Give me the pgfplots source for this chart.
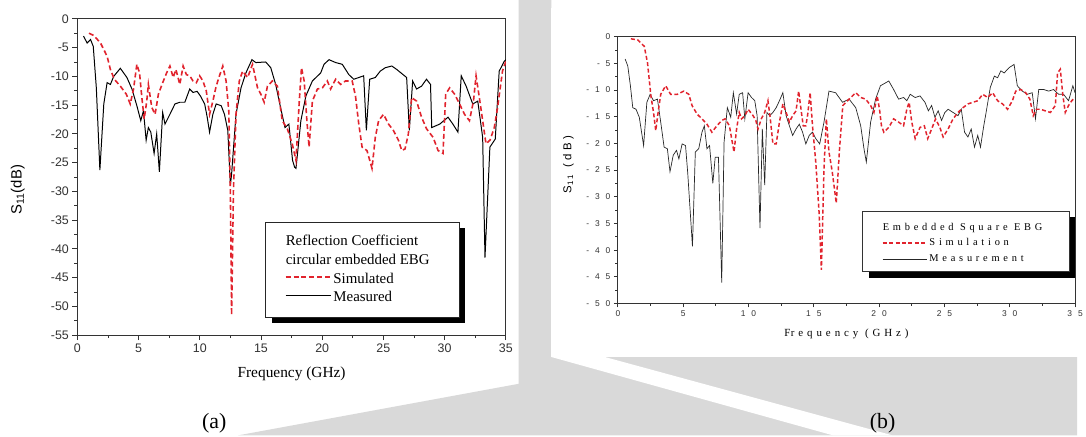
\documentclass[border=0pt]{standalone}
\usepackage{fontspec}
\setmainfont{Liberation Serif}
\newfontfamily\arial{Liberation Sans}
\newfontfamily\arialsp[LetterSpace=70]{Liberation Sans}
\newfontfamily\arialspb[LetterSpace=30]{Liberation Sans}
\newfontfamily\timessp[LetterSpace=36]{Liberation Serif}
\usepackage{pgfplots}
\pgfplotsset{compat=1.18}
\definecolor{simred}{RGB}{225,35,45}
\definecolor{bggray}{RGB}{217,217,217}
\begin{document}
\begin{tikzpicture}[x=1pt,y=1pt]
\fill[white] (0,0) rectangle (1086,439);
\fill[bggray] (523,52) -- (523,439) -- (556,439) -- (556,79) -- (1086,79) -- (1086,0) -- (240,0) -- cycle;
\fill[white] (556,79) -- (610,79) -- (900,0) -- (840,0) -- cycle;
\fill[white] (556,79) rectangle (1086,431);

% ---------------- panel (a)
\begin{axis}[at={(78pt,101pt)}, anchor=south west, scale only axis,
  width=432pt, height=319pt,
  xmin=0, xmax=35, ymin=-55, ymax=0,
  xtick={0,5,...,35}, ytick={-55,-50,...,0},
  minor x tick num=1, minor y tick num=1,
  tick align=outside, xtick pos=bottom, ytick pos=left,
  major tick length=5pt, minor tick length=3pt,
  axis line style={line width=1pt, black!80},
  every tick/.style={line width=0.9pt, black!80},
  /pgf/number format/assume math mode=true,
  ticklabel style={font=\arial\fontsize{12.5}{14}\selectfont, text=black!80},
  xlabel={Frequency (GHz)},
  xlabel style={font=\fontsize{15.5}{18}\selectfont, at={(axis description cs:0.5,-0.122)}, anchor=center},
  ylabel={\arial S\textsubscript{11}(dB)},
  ylabel style={font=\fontsize{15}{18}\selectfont, at={(axis description cs:-0.139,0.46)}, anchor=center},
]
\addplot[black, line width=1pt] coordinates {
(0.5,-3.0) (0.8,-4.2) (1.08,-3.6) (1.3,-4.8) (1.55,-12) (1.84,-26.3) (2.16,-14.8) (2.43,-11.1) (2.7,-11.4) (2.97,-10) (3.51,-8.6) (4.05,-10.2) (4.46,-12.2) (4.86,-15.1) (5.18,-17.7) (5.4,-16) (5.62,-21.1) (5.8,-18.9) (6.0,-19.7) (6.27,-23.4) (6.48,-20) (6.7,-26.6) (6.97,-16.3) (7.16,-18.3) (7.56,-16.6) (7.97,-14.8) (8.37,-14.5) (8.78,-14.5) (9.18,-12.2) (9.45,-12.8) (9.78,-12.6) (10.05,-13.4) (10.4,-14.8) (10.6,-17) (10.8,-19.7) (11.07,-16.6) (11.34,-14.8) (11.75,-15.1) (12.02,-16.6) (12.29,-19.4) (12.5,-29) (12.6,-27) (12.96,-16.6) (13.37,-12) (13.77,-9.4) (14.26,-7.1) (14.58,-7.6) (15.39,-7.5) (15.8,-8.5) (16.2,-11.4) (16.6,-15.4) (16.96,-18.9) (17.28,-18.3) (17.58,-24.6) (17.75,-25.8) (17.86,-26) (18.26,-17.7) (18.67,-13.4) (19.2,-10.8) (19.88,-9.4) (20.15,-7.9) (20.56,-7.1) (21.1,-7.6) (21.64,-7.9) (22.18,-9.7) (22.58,-10.5) (22.99,-10.2) (23.39,-9.9) (23.61,-19.4) (23.88,-10.5) (24.34,-10.2) (24.74,-9.1) (25.15,-8.5) (25.69,-8.2) (26.09,-8.8) (26.9,-10.2) (27.12,-19.4) (27.39,-10.8) (27.71,-12.2) (28.12,-11.7) (28.52,-10.5) (28.85,-11.4) (28.95,-18.9) (29.6,-18.3) (30.28,-17.1) (30.68,-18.3) (31.09,-19.7) (31.36,-9.9) (31.76,-11.7) (32.3,-14.8) (32.71,-14.3) (33.11,-20.6) (33.3,-41.5) (33.7,-22.3) (34.14,-20.9) (34.46,-9.1) (34.87,-7.4) (35,-7.1)
};
\addplot[simred, line width=1.6pt, dash pattern=on 5pt off 3pt] coordinates {
(0.95,-2.5) (1.35,-2.9) (1.89,-4.2) (2.43,-6.5) (2.7,-8.8) (3.02,-10.5) (3.51,-11.7) (4.0,-13.1) (4.32,-14.8) (4.59,-12.2) (4.86,-7.9) (5.08,-9.4) (5.27,-13.7) (5.46,-17.4) (5.67,-14.3) (5.8,-11.4) (6.08,-15.4) (6.35,-16.6) (6.62,-13.1) (6.97,-11.1) (7.29,-9.4) (7.56,-8.2) (7.83,-10.2) (8.05,-8.8) (8.37,-11.4) (8.64,-8.2) (8.91,-9.7) (9.18,-9.9) (9.45,-10.8) (9.72,-11.1) (9.99,-9.9) (10.26,-10.8) (10.53,-12.5) (10.8,-16.6) (11.07,-14.3) (11.34,-11.7) (11.61,-9.9) (11.88,-8.2) (12.15,-10.8) (12.37,-16) (12.5,-30) (12.6,-51.5) (12.75,-30) (12.96,-16.6) (13.23,-10.8) (13.5,-9.1) (13.91,-10.2) (14.31,-7.9) (14.72,-12) (14.99,-13.1) (15.26,-14.5) (15.53,-11.7) (15.93,-10.8) (16.34,-11.7) (16.74,-17.7) (17.15,-19.1) (17.55,-21.7) (17.86,-24.6) (18.13,-14.3) (18.31,-8.5) (18.53,-10.8) (18.75,-17.7) (18.93,-22.3) (19.2,-14.3) (19.61,-12.2) (20.02,-12) (20.42,-10.8) (20.69,-12.2) (21.1,-10.5) (21.5,-11.4) (21.91,-10.8) (22.45,-10.8) (22.72,-13.4) (22.99,-18.3) (23.26,-22.3) (23.66,-22.9) (24.07,-26) (24.34,-20.6) (24.61,-17.7) (25.01,-16.6) (25.42,-18.3) (25.82,-19.4) (26.23,-21.1) (26.5,-22.9) (26.77,-22.6) (27.04,-20) (27.31,-13.7) (27.71,-14.3) (28.12,-17.1) (28.52,-19.1) (29.06,-20.6) (29.47,-22.9) (29.87,-23.4) (30.09,-13.1) (30.41,-12) (30.82,-13.1) (31.22,-14.8) (31.63,-16.6) (32.03,-17.7) (32.36,-14.3) (32.57,-9.9) (32.84,-13.7) (33.11,-17.7) (33.38,-21.7) (33.71,-21.1) (34.06,-18.9) (34.33,-15.4) (34.73,-9.1) (35,-7.4)
};
\end{axis}

% ---------------- panel (b)
\begin{axis}[at={(623pt,133pt)}, anchor=south west, scale only axis,
  width=461pt, height=269pt,
  xmin=0, xmax=35, ymin=-50, ymax=0,
  xtick={0,5,...,35}, ytick={-50,-45,...,0},
  minor x tick num=1, minor y tick num=1,
  tick align=outside, xtick pos=bottom, ytick pos=left,
  major tick length=4pt, minor tick length=2.5pt,
  axis line style={line width=0.9pt, black!80},
  every tick/.style={line width=0.8pt, black!80},
  /pgf/number format/assume math mode=true,
  ticklabel style={font=\arialsp\fontsize{8.5}{10}\selectfont, text=black!80},
  xlabel={\timessp F\kern0.5pt requency (GHz)},
  xlabel style={font=\fontsize{11}{13}\selectfont, at={(axis description cs:0.5,-0.115)}, anchor=center},
  ylabel={\arialspb S\textsubscript{11} (dB)},
  ylabel style={font=\fontsize{11.5}{13}\selectfont, at={(axis description cs:-0.108,0.52)}, anchor=center},
]
\addplot[black!85, line width=0.7pt] coordinates {
(0.56,-4.2) (0.76,-5.5) (0.96,-9.2) (1.14,-13.3) (1.39,-13.6) (1.64,-15.1) (1.97,-20.4) (2.22,-12.3) (2.47,-10.8) (2.73,-12) (3.03,-11.7) (3.28,-16) (3.54,-20.7) (3.79,-21) (3.99,-25.3) (4.24,-22.2) (4.49,-21.3) (4.67,-22.9) (4.92,-20.1) (5.18,-20.4) (5.35,-25.6) (5.71,-39.3) (5.93,-21.6) (6.19,-21) (6.44,-17.9) (6.62,-16.7) (6.82,-21) (7.02,-20.4) (7.27,-27.5) (7.45,-22.6) (7.7,-22.6) (7.95,-46.1) (8.13,-19.8) (8.38,-13.3) (8.64,-15.1) (8.84,-10.5) (9.09,-14.5) (9.29,-10.8) (9.55,-10.5) (9.72,-15.4) (9.97,-10.5) (10.23,-11.4) (10.48,-12) (10.66,-14.8) (10.88,-35.9) (11.06,-17.3) (11.24,-27.8) (11.41,-14.2) (11.62,-14.8) (11.87,-14.2) (12.12,-13.3) (12.37,-12) (12.63,-10.5) (12.88,-14.8) (13.13,-16.7) (13.38,-18.5) (13.64,-17.3) (13.89,-16.4) (14.14,-17.9) (14.39,-20.1) (14.65,-18.5) (14.9,-17.9) (15.15,-19.1) (15.45,-20.1) (15.78,-16) (16.16,-10.2) (16.67,-10.5) (17.2,-12.3) (17.7,-11.7) (18.21,-13.3) (18.59,-16.7) (18.84,-21) (19.02,-23.5) (19.35,-16) (19.73,-11.7) (20.1,-9.2) (20.74,-8.3) (21.11,-9.9) (21.49,-11.7) (21.87,-11.4) (22.12,-12) (22.38,-10.8) (22.76,-11.4) (23.13,-11.1) (23.51,-12.3) (23.77,-13.9) (24.02,-12.9) (24.27,-15.1) (24.52,-13.9) (24.78,-15.7) (25.03,-14.2) (25.28,-13.6) (25.66,-14.2) (26.04,-14.8) (26.29,-13.6) (26.54,-17.9) (26.8,-18.8) (27.05,-17.3) (27.3,-20.7) (27.55,-18.5) (27.76,-20.7) (28.01,-16.7) (28.19,-14.2) (28.51,-9.5) (28.82,-7.4) (29.07,-7.7) (29.32,-6.4) (29.57,-6.8) (29.95,-5.8) (30.33,-5.2) (30.58,-9.2) (30.96,-10.2) (31.34,-10.8) (31.72,-10.5) (31.97,-15.4) (32.22,-9.9) (32.6,-9.9) (32.98,-10.2) (33.36,-9.9) (33.74,-10.8) (34.12,-10.8) (34.5,-12) (34.83,-9.2) (35,-10.5)
};
\addplot[simred, line width=1.5pt, dash pattern=on 4pt off 2.5pt] coordinates {
(1.0,-0.4) (1.52,-0.6) (2.02,-1.8) (2.27,-4.9) (2.4,-8) (2.53,-11.1) (2.73,-14.2) (2.9,-17.6) (3.08,-14.2) (3.28,-10.8) (3.66,-9.2) (4.04,-10.8) (4.55,-10.8) (5.05,-10.2) (5.43,-10.8) (5.68,-12.9) (6.06,-14.5) (6.44,-15.4) (6.82,-16.4) (7.2,-17.9) (7.58,-16.7) (7.95,-15.7) (8.21,-15.4) (8.54,-16.7) (8.71,-19.1) (8.89,-21.6) (9.09,-17.3) (9.29,-14.2) (9.47,-15.4) (9.72,-14.8) (9.97,-13.6) (10.35,-14.8) (10.56,-15.7) (10.73,-17.3) (10.98,-15.4) (11.24,-14.2) (11.49,-12) (11.67,-15.4) (11.87,-20.1) (12.12,-20.1) (12.37,-16) (12.63,-12.6) (12.88,-14.2) (13.13,-16) (13.38,-14.8) (13.64,-13.9) (13.84,-10.2) (14.02,-13.6) (14.19,-16.7) (14.39,-16.7) (14.52,-14.8) (14.72,-10.5) (14.9,-16.7) (15.15,-23.5) (15.4,-32.8) (15.58,-43.7) (15.78,-24.7) (15.96,-15.4) (16.16,-21.6) (16.41,-25.3) (16.72,-31.2) (16.97,-21) (17.22,-12.9) (17.58,-12) (17.96,-11.1) (18.21,-10.5) (18.59,-11.4) (18.97,-11.7) (19.35,-12.9) (19.6,-14.2) (19.85,-11.1) (20.03,-13.6) (20.18,-16.7) (20.36,-17.9) (20.74,-17) (21.11,-15.4) (21.49,-16) (21.87,-16.7) (22.12,-13.6) (22.3,-12.3) (22.5,-16) (22.76,-19.1) (23.13,-17) (23.46,-16.7) (23.72,-19.1) (24.02,-17.3) (24.32,-15.4) (24.65,-17) (24.9,-18.8) (25.28,-17.3) (25.66,-15.4) (26.04,-14.2) (26.42,-13.3) (26.8,-12.6) (27.18,-12.3) (27.55,-12) (27.93,-10.8) (28.31,-11.4) (28.69,-10.5) (29.07,-12) (29.45,-12.6) (29.83,-13.6) (30.2,-12) (30.46,-10.2) (30.84,-9.9) (31.22,-10.5) (31.54,-11.7) (31.8,-14.8) (32.05,-13.6) (32.35,-13.6) (32.73,-13.9) (33.11,-14.2) (33.49,-12.9) (33.66,-6.8) (33.87,-6.1) (34.07,-11.1) (34.25,-14.2) (34.5,-12.9) (34.75,-12) (35,-11.4)
};
\end{axis}

% legend (a)
\fill[black] (274,113) rectangle (469,209);
\draw[draw=black!85, fill=white, line width=0.8pt] (268,119) rectangle (463,215);
\node[anchor=base west, inner sep=0, font=\fontsize{15}{18}\selectfont] at (288,191) {Reflection Coefficient};
\node[anchor=base west, inner sep=0, font=\fontsize{15}{18}\selectfont] at (288,172) {circular embedded EBG};
\node[anchor=base west, inner sep=0, font=\fontsize{15}{18}\selectfont] at (336,153) {Simulated};
\node[anchor=base west, inner sep=0, font=\fontsize{15}{18}\selectfont] at (336,135) {Measured};
\draw[draw=simred, line width=1.6pt, dash pattern=on 5pt off 3pt] (288,159.5) -- (334,159.5);
\draw[draw=black, line width=0.9pt] (288,141) -- (334,141);

% legend (b)
\fill[black] (876,159) rectangle (1084,220);
\draw[draw=black!80, fill=white, line width=0.7pt] (870,165) rectangle (1078,226);
\node[anchor=base west, inner sep=0, font=\timessp\fontsize{10.5}{12}\selectfont] at (890,207) {Embedded Square EBG};
\node[anchor=base west, inner sep=0, font=\timessp\fontsize{10.5}{12}\selectfont] at (937,191) {Simulation};
\node[anchor=base west, inner sep=0, font=\timessp\fontsize{10.5}{12}\selectfont] at (937,175) {Measurement};
\draw[draw=simred, line width=1.1pt, dash pattern=on 4pt off 2.5pt] (890,194) -- (935,194);
\draw[draw=black!85, line width=0.6pt] (890,178) -- (935,178);

\node[font=\fontsize{22}{26}\selectfont] at (216,12) {(a)};
\node[font=\fontsize{22}{26}\selectfont] at (890,12) {(b)};
\end{tikzpicture}
\end{document}
